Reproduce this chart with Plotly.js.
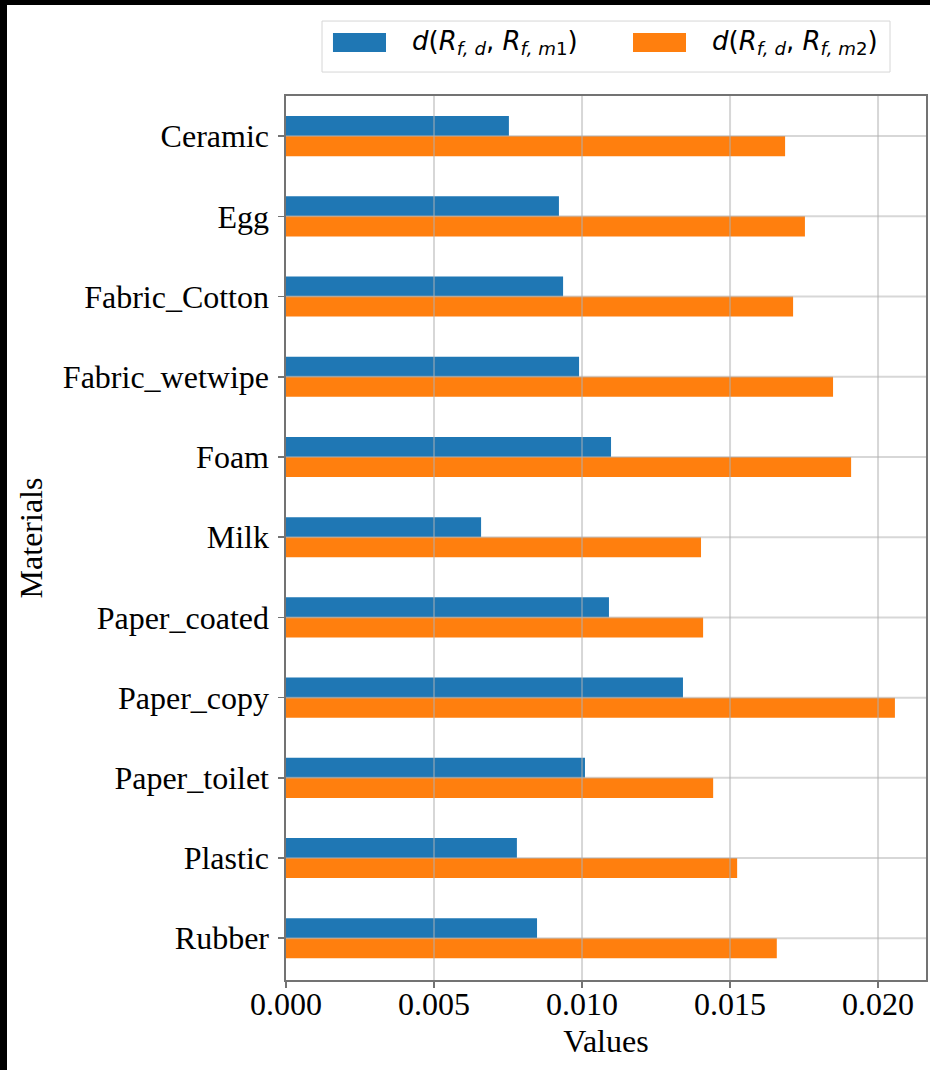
<!DOCTYPE html>
<html>
<head>
<meta charset="utf-8">
<script src="https://cdn.plot.ly/plotly-3.0.1.min.js"></script>
<style>
  html, body { margin: 0; padding: 0; background: #000; width: 930px; height: 1070px; overflow: hidden; }
  #chart { position: absolute; left: 7px; top: 5px; width: 923px; height: 1065px; background: #fff; }
</style>
</head>
<body>
<div id="chart"></div>
<script>
// ---- data ----
const materials = ["Ceramic", "Egg", "Fabric_Cotton", "Fabric_wetwipe", "Foam", "Milk",
                   "Paper_coated", "Paper_copy", "Paper_toilet", "Plastic", "Rubber"];
const distM1 = [0.00753, 0.00922, 0.00936, 0.00990, 0.01098, 0.00659,
                0.01091, 0.01341, 0.01010, 0.00780, 0.00848];
const distM2 = [0.01686, 0.01753, 0.01713, 0.01848, 0.01909, 0.01402,
                0.01409, 0.02057, 0.01443, 0.01524, 0.01658];
const seriesNames = [
  "<i>d</i>(<i>R</i><sub><i>f, d</i></sub>, <i>R</i><sub><i>f, m</i>1</sub>)",
  "<i>d</i>(<i>R</i><sub><i>f, d</i></sub>, <i>R</i><sub><i>f, m</i>2</sub>)"
];
const seriesColors = ["#1f77b4", "#ff7f0e"];
const xTickVals = [0, 0.005, 0.010, 0.015, 0.020];
const xTickText = ["0.000", "0.005", "0.010", "0.015", "0.020"];

// ---- traces ----
const traces = [distM1, distM2].map((vals, i) => ({
  type: "bar",
  orientation: "h",
  y: materials,
  x: vals,
  name: seriesNames[i],
  marker: { color: seriesColors[i], line: { width: 0 } },
  showlegend: false,
  hoverinfo: "x+y"
}));

// grid drawn above the bars (as in the reference)
const gridColor = "rgba(176,176,176,0.5)";
const shapes = [];
xTickVals.slice(1).forEach(v => shapes.push({
  type: "line", layer: "above", xref: "x", yref: "paper",
  x0: v, x1: v, y0: 0, y1: 1, line: { color: gridColor, width: 2 }
}));
materials.forEach((m, i) => shapes.push({
  type: "line", layer: "above", xref: "paper", yref: "y",
  x0: 0, x1: 1, y0: i, y1: i, line: { color: gridColor, width: 2 }
}));

// manual legend (matplotlib-style wide patches)
shapes.push({
  type: "rect", layer: "above", xref: "paper", yref: "paper",
  x0: 0.05625, x1: 0.94375, y0: 1.0271, y1: 1.0848,
  line: { color: "#d6d6d6", width: 1 }, fillcolor: "rgba(255,255,255,0.8)"
});
const patchX = [[0.0734, 0.15625], [0.5422, 0.625]];
const textX = [0.19375, 0.6625];
const annotations = [];
seriesNames.forEach((n, i) => {
  shapes.push({
    type: "rect", layer: "above", xref: "paper", yref: "paper",
    x0: patchX[i][0], x1: patchX[i][1], y0: 1.0498, y1: 1.0713,
    line: { width: 0 }, fillcolor: seriesColors[i]
  });
  annotations.push({
    xref: "paper", yref: "paper", x: textX[i], y: 1.06,
    xanchor: "left", yanchor: "middle", showarrow: false,
    text: n, font: { family: "DejaVu Sans", size: 26, color: "#000" }
  });
});

const axisFont = { family: "Liberation Serif", size: 32, color: "#000" };
const spine = "#737373";

const layout = {
  width: 923, height: 1065,
  margin: { l: 279, r: 4, t: 91, b: 90, pad: 0 },
  paper_bgcolor: "#fff", plot_bgcolor: "#fff",
  barmode: "group", bargap: 0.5, bargroupgap: 0,
  showlegend: false,
  font: axisFont,
  xaxis: {
    range: [0, 0.02162],
    tickvals: xTickVals, ticktext: xTickText,
    showgrid: false, zeroline: false,
    showline: true, linecolor: spine, linewidth: 1.6, mirror: true,
    ticks: "outside", ticklen: 6, tickwidth: 1.6, tickcolor: spine,
    ticklabelstandoff: -11,
    tickfont: axisFont,
    title: { text: "Values", font: axisFont, standoff: 8 }
  },
  yaxis: {
    type: "category",
    categoryorder: "array", categoryarray: materials,
    range: [10.52, -0.5],
    showgrid: false, zeroline: false,
    showline: true, linecolor: spine, linewidth: 1.6, mirror: true,
    ticks: "outside", ticklen: 6, tickwidth: 1.6, tickcolor: spine,
    ticklabelstandoff: 3,
    tickfont: axisFont,
    title: { text: "Materials", font: axisFont, standoff: 10 }
  },
  shapes: shapes,
  annotations: annotations
};

Plotly.newPlot("chart", traces, layout, { displayModeBar: false, staticPlot: true });
</script>
</body>
</html>
